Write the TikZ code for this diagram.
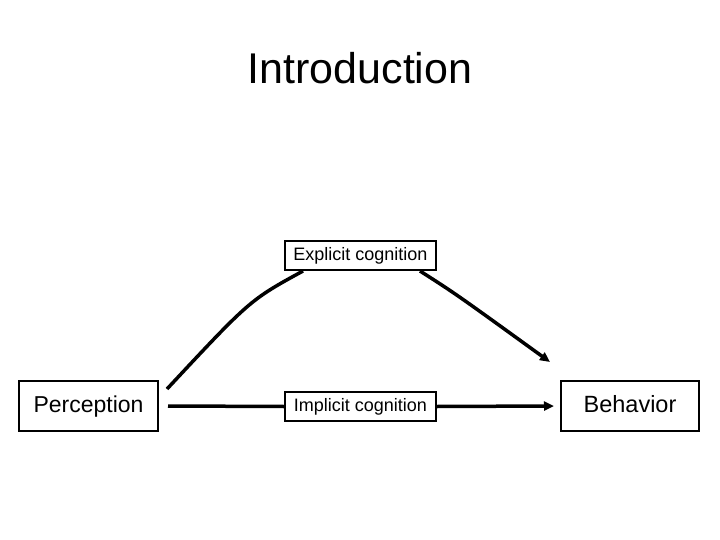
\documentclass[tikz,border=0pt]{standalone}
\usepackage{fontspec}
\setmainfont{Liberation Sans}
\usetikzlibrary{arrows.meta}
\begin{document}
\begin{tikzpicture}[x=1pt,y=-1pt,
  box/.style={draw=black,line width=2pt,inner sep=0pt,align=center},
  conn/.style={line width=3.5pt,-{Triangle[length=10pt,width=9pt]}},
  line/.style={line width=3.5pt}]
\useasboundingbox[fill=white] (0,0) rectangle (720,540);
\node (title) at (360,68) {\fontsize{43}{50}\selectfont Introduction};
\node[box,minimum width=139pt,minimum height=50pt,text height=17pt,text depth=5pt] (perc) at (88.5,406) {\fontsize{23}{27}\selectfont Perception};
\node[box,minimum width=138pt,minimum height=50pt,text height=17pt,text depth=5pt] (beh) at (630,406) {\fontsize{23.5}{27}\selectfont Behavior};
\node[box,minimum width=151pt,minimum height=29pt,text height=13pt,text depth=4pt] (expl) at (360.5,255.5) {\fontsize{18}{21}\selectfont Explicit cognition};
\node[box,minimum width=151pt,minimum height=29pt,text height=13pt,text depth=4pt] (impl) at (360.5,406.5) {\fontsize{18}{21}\selectfont Implicit cognition};
\coordinate (s1) at (167,389);
\coordinate (e1) at (303,271);
\coordinate (s2) at (420,271);
\coordinate (e2) at (550,362);
\draw[line] (s1) .. controls (250,300) .. (e1);
\draw[conn] (s2) .. controls (456,294) .. (e2);
\draw[line] (perc.east)++(9,0) coordinate (pa) -- (impl.west);
\draw[conn] (impl.east) -- ([xshift=-6pt]beh.west);
\end{tikzpicture}
\end{document}
